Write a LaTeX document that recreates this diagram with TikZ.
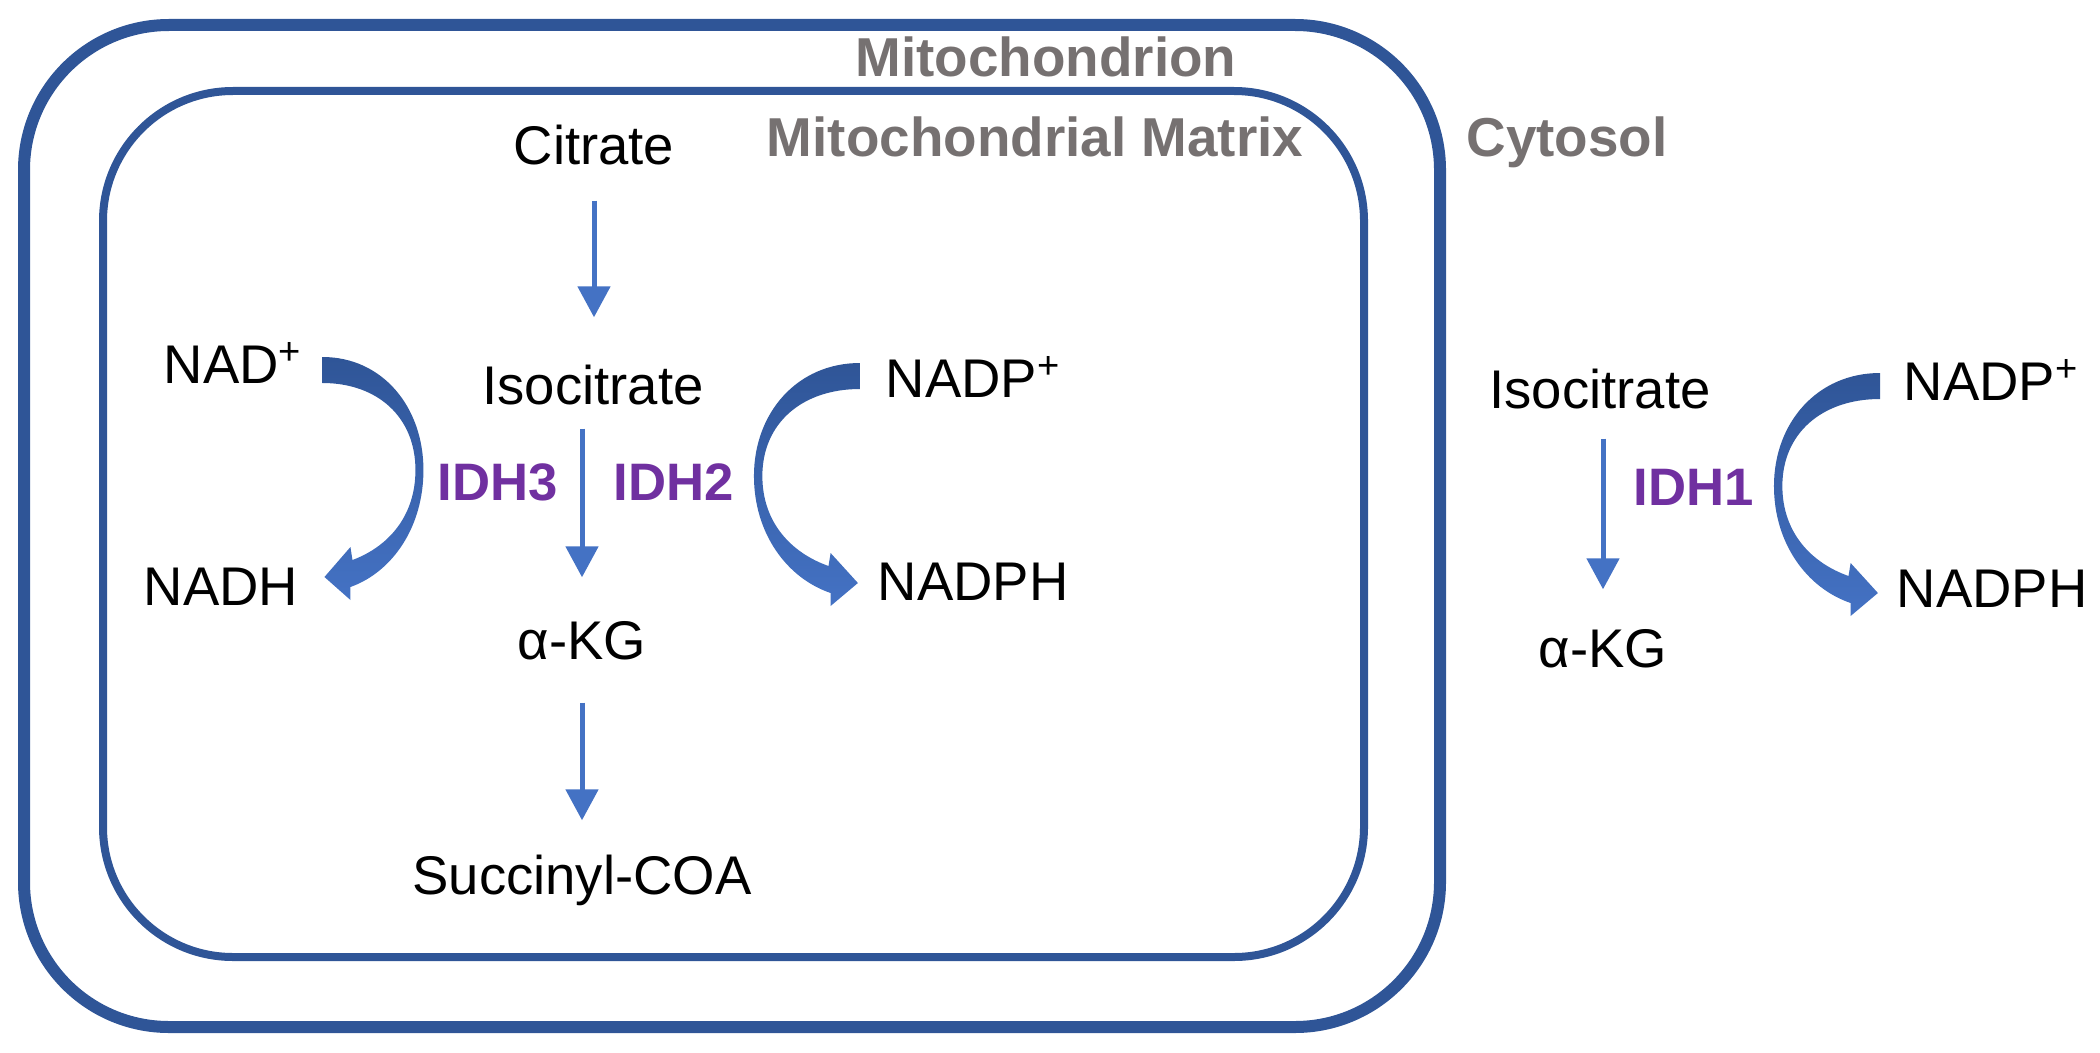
\documentclass[tikz,border=0pt]{standalone}
\usepackage{fontspec}
\setmainfont{Liberation Sans}
\usetikzlibrary{arrows.meta,calc}
\definecolor{membrane}{HTML}{2F5597}
\definecolor{flowblue}{HTML}{4472C4}
\definecolor{enzyme}{HTML}{7030A0}
\definecolor{region}{HTML}{767171}
\tikzset{
  metab/.style={inner sep=0pt, text height=4mm, text depth=1mm, font=\fontsize{15.5}{18}\selectfont},
  enz/.style={metab, text=enzyme, font=\fontsize{15}{18}\selectfont\bfseries},
  zone/.style={inner sep=0pt, text=region, font=\fontsize{15.6}{18}\selectfont\bfseries},
  flow/.style={draw=flowblue, line width=0.5mm, -{Triangle[length=3.1mm,width=3.2mm]}},
  redox/.pic={
    \path[top color=membrane, bottom color=flowblue]
      (0,0) .. controls (60,0) and (101,50) .. (101,113)
      .. controls (101,170) and (70,215) .. (28,230) -- (28,243) -- (2,220) -- (28,190) -- (30,203)
      .. controls (65,190) and (93,160) .. (93,113)
      .. controls (93,60) and (55,26) .. (0,26) -- cycle;
  }
}
\begin{document}
\begin{tikzpicture}[x=0.1mm, y=-0.1mm]
      \useasboundingbox (0,0) rectangle (2100,1053);
      \draw[membrane, line width=1.2mm, rounded corners=14.5mm] (24,25) rectangle (1440,1027);
      \draw[membrane, line width=0.8mm, rounded corners=13mm] (103,91) rectangle (1364,957);
      \node[zone, anchor=base] (mito) at (1046,77) {Mitochondrion};
      \node[zone, anchor=base] (matrix) at (1035,157) {Mitochondrial Matrix};
      \node[zone, anchor=base] (cyto) at (1567,157) {Cytosol};

      \node[metab, anchor=base] (citrate) at (594,165) {Citrate};
      \node[metab, anchor=base] (miso) at (593,404) {Isocitrate};
      \node[metab, anchor=base] (makg) at (582,659) {α-KG};
      \node[metab, anchor=base] (succ) at (582,894) {Succinyl-COA};
      \node[metab, anchor=base west] (nad) at (163,383) {NAD\textsuperscript{+}};
      \node[metab, anchor=base west] (nadh) at (143,605) {NADH};
      \node[metab, anchor=base west] (mnadp) at (885,397) {NADP\textsuperscript{+}};
      \node[metab, anchor=base west] (mnadph) at (877,600) {NADPH};
      \node[enz, anchor=base west] (idh3) at (437,500) {IDH3};
      \node[enz, anchor=base west] (idh2) at (613,500) {IDH2};

      \node[metab, anchor=base] (ciso) at (1600,408) {Isocitrate};
      \node[metab, anchor=base] (cakg) at (1603,667) {α-KG};
      \node[metab, anchor=base west] (cnadp) at (1903,400) {NADP\textsuperscript{+}};
      \node[metab, anchor=base west] (cnadph) at (1896,607) {NADPH};
      \node[enz, anchor=base west] (idh1) at (1633,505) {IDH1};

      \draw[flow, shorten <=2.5mm, shorten >=4.6mm] (citrate.south) -- (citrate.south |- miso.north);
      \draw[flow, shorten <=1.4mm, shorten >=4.1mm] (miso.south -| makg.north) -- (makg.north);
      \draw[flow, shorten <=3.3mm, shorten >=3.3mm] (makg.south) -- (makg.south |- succ.north);
      \draw[flow, shorten <=2mm, shorten >=3.7mm] (ciso.south -| cakg.north) -- (cakg.north);

      \pic at ($(nad.east)+(19,-11)$) {redox};
      \pic[xscale=-1.05] at ($(mnadp.west)+(-25,-19)$) {redox};
      \pic[xscale=-1.05] at ($(cnadp.west)+(-23,-12)$) {redox};
\end{tikzpicture}
\end{document}
